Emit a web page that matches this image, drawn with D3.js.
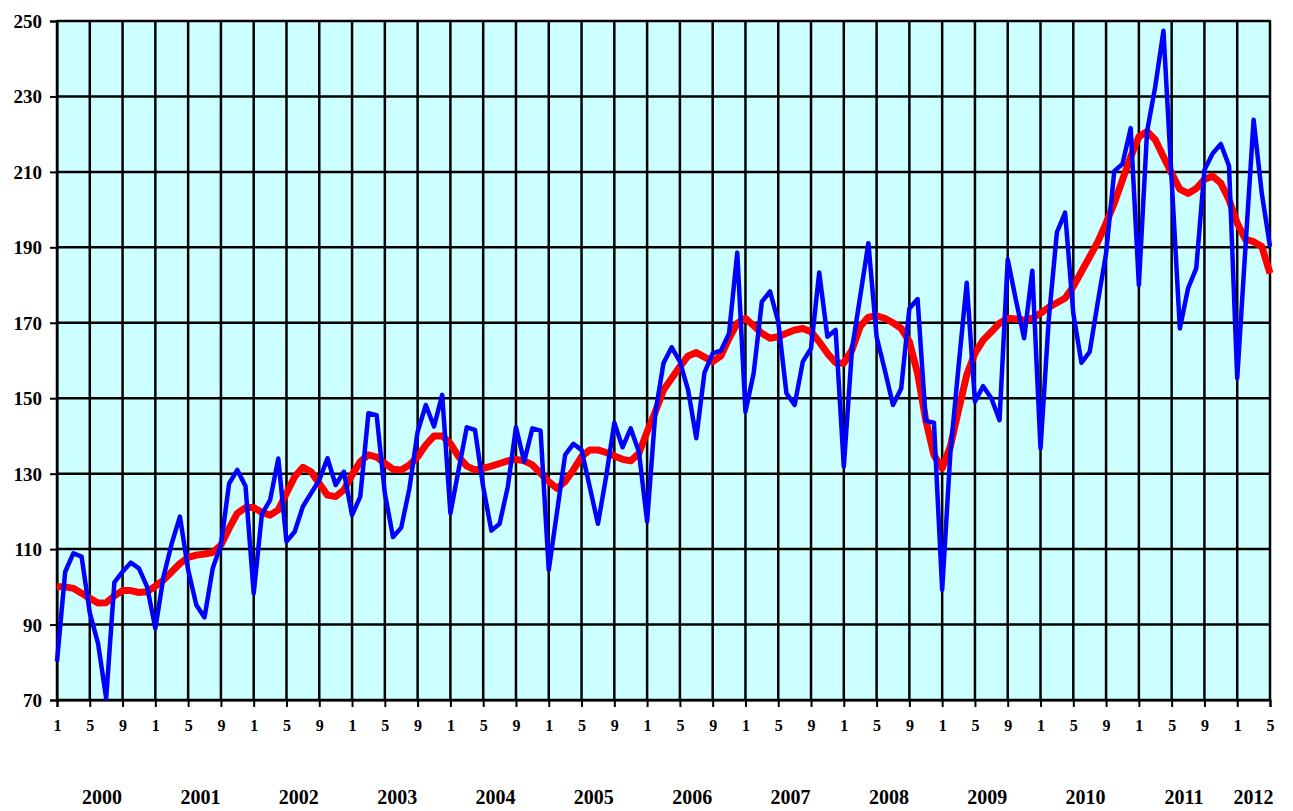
<!DOCTYPE html>
<html>
<head>
<meta charset="utf-8">
<script src="https://cdn.jsdelivr.net/npm/d3@7/dist/d3.min.js"></script>
<style>
  body { margin: 0; background: #fff; }
  svg text { font-family: "Liberation Serif", "Times New Roman", serif; font-weight: bold; fill: #000; }
</style>
</head>
<body>
<svg id="chart" width="1293" height="811"></svg>
<script>
// monthly values, Jan 2000 .. May 2012
const years = [2000, 2001, 2002, 2003, 2004, 2005, 2006, 2007, 2008, 2009, 2010, 2011, 2012];

const monthly = [
  80.2, 104.0, 108.9, 108.0, 93.1, 85.1, 70.5, 101.2, 104.0, 106.4, 104.9, 100.0,
  89.0, 102.7, 111.5, 118.6, 104.5, 95.2, 91.9, 104.9, 111.1, 127.4, 131.0, 126.7,
  98.3, 119.3, 123.0, 134.0, 112.0, 114.6, 121.3, 124.8, 128.3, 134.1, 127.0, 130.5,
  119.0, 123.9, 146.0, 145.5, 124.8, 113.2, 115.7, 126.1, 141.1, 148.2, 142.5, 150.9,
  119.5, 131.0, 142.3, 141.6, 126.5, 114.9, 116.7, 126.5, 142.3, 133.2, 142.0, 141.4,
  104.5, 119.7, 135.0, 137.9, 136.3, 126.5, 116.7, 129.2, 143.5, 137.0, 142.0, 135.8,
  117.3, 146.0, 159.3, 163.5, 159.7, 152.2, 139.4, 156.8, 161.9, 162.6, 167.2, 188.6,
  146.4, 156.6, 175.6, 178.3, 170.3, 151.3, 148.2, 159.7, 163.2, 183.3, 166.3, 168.1,
  131.9, 163.0, 177.0, 191.1, 166.3, 157.5, 148.2, 152.6, 173.8, 176.3, 144.0, 143.5,
  99.2, 135.4, 158.4, 180.6, 149.1, 153.2, 150.0, 144.2, 186.8, 176.0, 165.9, 183.8,
  136.7, 170.7, 194.0, 199.2, 172.5, 159.4, 162.3, 175.6, 188.4, 210.2, 212.1, 221.6,
  180.0, 220.7, 232.6, 247.4, 207.9, 168.5, 179.1, 184.4, 210.5, 214.9, 217.4, 211.6,
  155.3, 189.8, 223.8, 204.3, 190.2
];

const trend = [
  100.0, 100.0, 99.6, 98.3, 97.0, 95.7, 95.8, 97.6, 99.0, 99.0, 98.5, 98.7,
  100.2, 101.8, 104.0, 106.2, 107.8, 108.4, 108.7, 109.1, 111.1, 115.5, 119.5, 121.0,
  121.0, 119.7, 119.0, 120.4, 124.8, 129.2, 131.7, 130.5, 127.4, 124.3, 123.9, 125.7,
  129.7, 133.2, 135.0, 134.4, 132.7, 131.2, 131.0, 132.3, 134.5, 137.6, 140.0, 140.0,
  138.0, 134.5, 132.0, 131.0, 131.4, 132.0, 132.7, 133.4, 133.8, 133.4, 132.3, 130.1,
  127.9, 126.1, 127.9, 131.0, 134.5, 136.3, 136.3, 135.6, 134.7, 133.8, 133.4, 135.4,
  141.1, 146.4, 152.2, 155.3, 158.4, 161.2, 162.1, 160.9, 159.7, 161.2, 165.9, 169.9,
  171.2, 169.2, 167.2, 165.9, 166.3, 167.2, 168.1, 168.5, 167.6, 165.0, 161.9, 159.4,
  159.3, 162.8, 169.0, 171.5, 171.8, 171.2, 170.0, 168.5, 165.0, 156.6, 144.2, 134.9,
  131.4, 137.2, 146.9, 156.2, 161.9, 165.4, 167.6, 169.9, 171.2, 171.0, 170.7, 171.2,
  172.5, 174.1, 175.3, 176.5, 179.6, 183.6, 187.5, 191.5, 196.4, 201.7, 207.9, 214.0,
  219.3, 220.7, 218.5, 214.0, 209.6, 205.4, 204.3, 205.6, 208.0, 208.9, 207.0, 202.6,
  196.4, 192.1, 191.5, 190.2, 183.1
];

const yTicks = [70, 90, 110, 130, 150, 170, 190, 210, 230, 250];
const monthTickLabels = [1, 5, 9];

const margin = { top: 21, right: 23, bottom: 111, left: 57 };
const W = 1293, H = 811;
const innerW = W - margin.left - margin.right;
const innerH = H - margin.top - margin.bottom;

const svg = d3.select('#chart');
const g = svg.append('g').attr('transform', `translate(${margin.left},${margin.top})`);

const n = monthly.length;
const x = d3.scaleLinear().domain([0, n - 1]).range([0, innerW]);
const y = d3.scaleLinear().domain([70, 250]).range([innerH, 0]);

// background
g.append('rect')
  .attr('width', innerW)
  .attr('height', innerH)
  .attr('fill', '#ccffff');

// vertical grid every 4 months
const gridIdx = d3.range(0, n, 4);
g.selectAll('.vgrid')
  .data(gridIdx)
  .join('line')
  .attr('x1', d => x(d)).attr('x2', d => x(d))
  .attr('y1', 0).attr('y2', innerH)
  .attr('stroke', '#000')
  .attr('stroke-width', 2.5);

// horizontal grid
g.selectAll('.hgrid')
  .data(yTicks)
  .join('line')
  .attr('x1', 0).attr('x2', innerW)
  .attr('y1', d => y(d)).attr('y2', d => y(d))
  .attr('stroke', '#000')
  .attr('stroke-width', 2.5);

// border
g.append('rect')
  .attr('width', innerW)
  .attr('height', innerH)
  .attr('fill', 'none')
  .attr('stroke', '#000')
  .attr('stroke-width', 2);

// y axis
const yAxis = d3.axisLeft(y).tickValues(yTicks).tickSize(7).tickPadding(8);
const ya = g.append('g').call(yAxis);
ya.select('.domain').attr('stroke', '#000').attr('stroke-width', 2);
ya.selectAll('.tick line').attr('stroke', '#000').attr('stroke-width', 2);
ya.selectAll('.tick text')
  .attr('font-size', 19)
  .attr('font-family', '"Liberation Serif", serif')
  .attr('font-weight', 'bold')
  .attr('dy', '0.34em');

// x axis, month numbers
const monthOf = i => (i % 12) + 1;
const xAxis = d3.axisBottom(x)
  .tickValues(gridIdx.filter(i => monthTickLabels.includes(monthOf(i))))
  .tickFormat(i => monthOf(i))
  .tickSize(7)
  .tickPadding(13);
const xa = g.append('g').attr('transform', `translate(0,${innerH})`).call(xAxis);
xa.select('.domain').attr('stroke', '#000').attr('stroke-width', 2);
xa.selectAll('.tick line').attr('stroke', '#000').attr('stroke-width', 2);
xa.selectAll('.tick text')
  .attr('font-size', 16)
  .attr('font-family', '"Liberation Serif", serif')
  .attr('font-weight', 'bold');

// year labels centred under each year's span
g.selectAll('.year')
  .data(years)
  .join('text')
  .attr('x', (d, k) => {
    const a = k * 12, b = Math.min(k * 12 + 11, n - 1);
    return x((a + b) / 2);
  })
  .attr('y', innerH + 104)
  .attr('text-anchor', 'middle')
  .attr('font-size', 20)
  .text(d => d);

// series
const line = d3.line().x((d, i) => x(i)).y(d => y(d));

g.append('path')
  .datum(trend)
  .attr('d', line)
  .attr('fill', 'none')
  .attr('stroke', '#ff0000')
  .attr('stroke-width', 7)
  .attr('stroke-linejoin', 'round');

g.append('path')
  .datum(monthly)
  .attr('d', line)
  .attr('fill', 'none')
  .attr('stroke', '#0000ff')
  .attr('stroke-width', 4.5)
  .attr('stroke-linejoin', 'round');
</script>
</body>
</html>
